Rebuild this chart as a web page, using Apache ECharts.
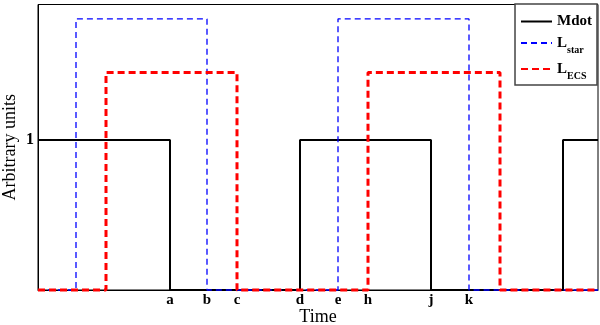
<!DOCTYPE html>
<html>
<head>
<meta charset="utf-8">
<script src="https://cdn.jsdelivr.net/npm/echarts@6/dist/echarts.min.js"></script>
<style>
  html, body { margin: 0; padding: 0; background: #fff; }
  #main { width: 600px; height: 325px; }
</style>
</head>
<body>
<div id="main"></div>
<script>
// step curves: [time, level], level holds until the next point
var mdotData  = [[0, 1], [132, 0], [262, 1], [393, 0], [525, 1], [560, 1]]
var lstarData = [[0, 0], [38, 1.807], [169, 0], [300, 1.807], [431, 0], [560, 0]]
var lecsData  = [[0, 0], [68, 1.449], [199, 0], [330, 1.449], [462, 0], [560, 0]]

// x tick labels and where they sit
var tickNames = ['a', 'b', 'c', 'd', 'e', 'h', 'j', 'k']
var tickTimes = [132, 169, 199, 262, 300, 330, 393, 431]
var yTicks = [1]

var serif = 'Liberation Serif'

var mychart = echarts.init(document.getElementById('main'));
mychart.setOption({
    animation: false,
    grid: {
        left: 38, right: 2, top: 4.5, bottom: 35,
        outerBoundsMode: 'none',
        containLabel: false,
        show: true, borderColor: '#000', borderWidth: 1
    },
    legend: {
        orient: 'vertical',
        right: 3, top: 4,
        padding: [10, 5, 4, 5],
        itemWidth: 31, itemHeight: 14,
        itemGap: 2,
        backgroundColor: '#fff',
        borderColor: '#444', borderWidth: 1.5,
        itemStyle: { opacity: 0 },
        textStyle: {
            fontFamily: serif, fontWeight: 'bold', fontSize: 15, color: '#000',
            rich: {
                b: { fontFamily: serif, fontWeight: 'bold', fontSize: 15, lineHeight: 14, color: '#000', verticalAlign: 'middle' },
                s: { fontFamily: serif, fontWeight: 'bold', fontSize: 10, lineHeight: 12, color: '#000', verticalAlign: 'middle', padding: [14, 0, 0, 0] }
            }
        },
        formatter: function (name) {
            if (name == 'Lstar') return '{b|L}{s|star}'
            if (name == 'LECS') return '{b|L}{s|ECS}'
            return '{b|' + name + '}'
        },
        data: ['Mdot', 'Lstar', 'LECS']
    },
    xAxis: {
        type: 'value',
        min: 0, max: 560,
        name: 'Time',
        nameLocation: 'middle',
        nameGap: 18,
        nameMoveOverlap: false,
        nameTextStyle: { fontFamily: serif, fontSize: 18, color: '#000' },
        axisLine: { show: true, lineStyle: { color: '#000' } },
        axisTick: { show: false },
        splitLine: { show: false },
        axisLabel: {
            customValues: tickTimes,
            formatter: function (v) {
                var i = tickTimes.indexOf(v)
                return i >= 0 ? tickNames[i] : ''
            },
            margin: 3,
            fontFamily: serif, fontWeight: 'bold', fontSize: 15, color: '#000'
        }
    },
    yAxis: {
        type: 'value',
        min: 0, max: 1.903,
        name: 'Arbitrary units',
        nameLocation: 'middle',
        nameGap: 19,
        nameMoveOverlap: false,
        nameTextStyle: { fontFamily: serif, fontSize: 18, color: '#000' },
        axisLine: { show: true, lineStyle: { color: '#000' } },
        axisTick: { show: false },
        splitLine: { show: false },
        axisLabel: {
            customValues: yTicks,
            margin: 4,
            fontFamily: serif, fontWeight: 'bold', fontSize: 16, color: '#000'
        }
    },
    series: [
        {
            name: 'Mdot', type: 'line', step: 'end', data: mdotData,
            symbol: 'none', clip: false,
            itemStyle: { color: '#000' },
            lineStyle: { color: '#000', width: 2 }
        },
        {
            name: 'Lstar', type: 'line', step: 'end', data: lstarData,
            symbol: 'none', clip: false,
            itemStyle: { color: '#0000ff' },
            lineStyle: { color: '#0000ff', width: 1.3, type: [6, 4] }
        },
        {
            name: 'LECS', type: 'line', step: 'end', data: lecsData,
            symbol: 'none', clip: false,
            itemStyle: { color: '#ff0000' },
            lineStyle: { color: '#ff0000', width: 3, type: [7, 4] }
        }
    ]
})
</script>
</body>
</html>
